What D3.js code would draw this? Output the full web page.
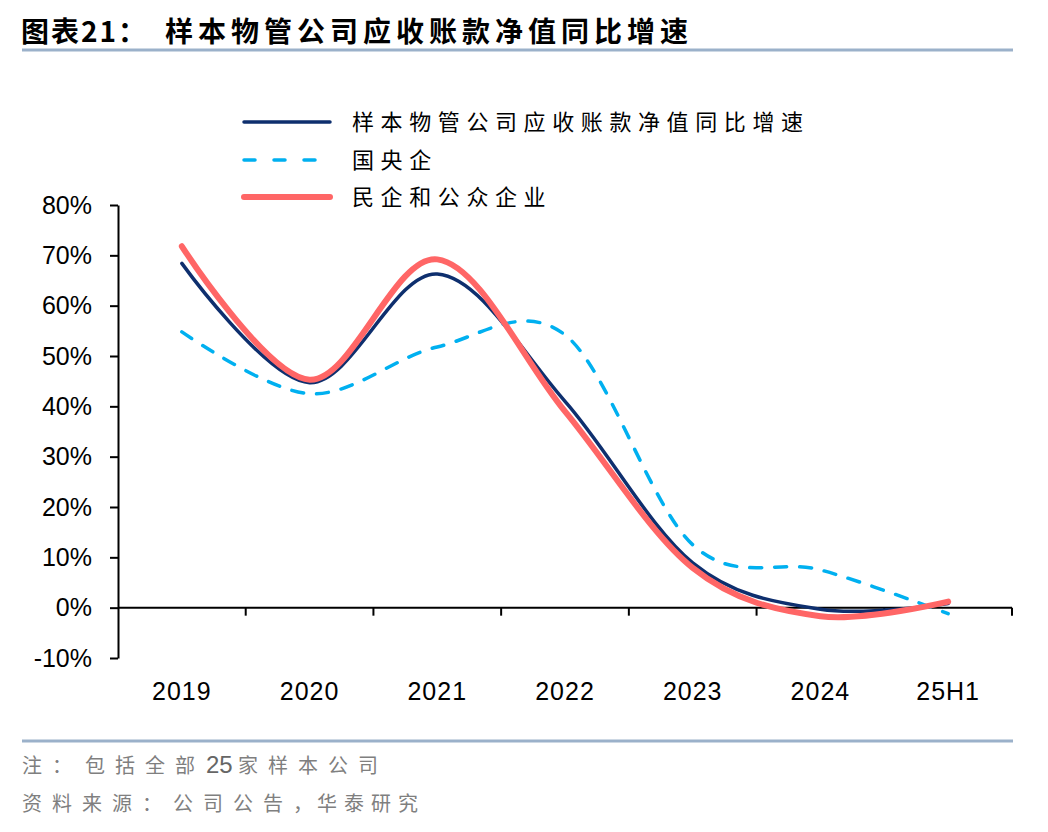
<!DOCTYPE html>
<html>
<head>
<meta charset="utf-8">
<script src="https://cdn.jsdelivr.net/npm/d3@7"></script>
<style>
  body { margin: 0; background: #fff; }
  svg text { font-family: "Liberation Sans", Arial, sans-serif; }
  .cjk { font-family: "Noto Sans CJK SC", sans-serif; }
</style>
</head>
<body>
<div id="chart"></div>
<script>
// 数据
const categories = ["2019", "2020", "2021", "2022", "2023", "2024", "25H1"];
const sampleAll = [68.4, 44.7, 66.3, 41.0, 8.9, -0.3, 0.8];
const stateOwned = [54.8, 42.5, 51.8, 54.2, 12.5, 7.5, -1.2];
const privatePublic = [71.8, 45.3, 69.2, 39.0, 7.9, -1.7, 1.2];
const yTicks = [-10, 0, 10, 20, 30, 40, 50, 60, 70, 80];

const series = [
  { name: "样本物管公司应收账款净值同比增速", values: sampleAll, color: "#0E2F6E", width: 3.5, dash: null },
  { name: "国央企", values: stateOwned, color: "#00B0F0", width: 3.5, dash: "12,13" },
  { name: "民企和公众企业", values: privatePublic, color: "#FF6666", width: 6, dash: null }
];

const width = 1048, height = 832;
const plot = { left: 118, right: 1012, top: 205, bottom: 658 };

const svg = d3.select("#chart").append("svg")
  .attr("width", width)
  .attr("height", height);

// 标题
svg.append("text")
  .attr("class", "cjk")
  .attr("x", 21).attr("y", 42)
  .attr("font-size", "28px")
  .attr("font-weight", "bold")
  .attr("letter-spacing", "2px")
  .text("图表21：");
svg.append("text")
  .attr("class", "cjk")
  .attr("x", 165).attr("y", 42)
  .attr("font-size", "28px")
  .attr("font-weight", "bold")
  .attr("letter-spacing", "5px")
  .text("样本物管公司应收账款净值同比增速");

svg.append("line")
  .attr("x1", 22).attr("x2", 1013)
  .attr("y1", 50).attr("y2", 50)
  .attr("stroke", "#9BB1CA").attr("stroke-width", 3);

// 比例尺
const x = d3.scaleBand().domain(categories).range([plot.left, plot.right]).padding(0);
const y = d3.scaleLinear().domain([-10, 80]).range([plot.bottom, plot.top]);
const cx = d => x(d) + x.bandwidth() / 2;

// Y 轴
const yAxis = svg.append("g")
  .attr("transform", `translate(${plot.left},0)`)
  .call(d3.axisLeft(y).tickValues(yTicks).tickSize(8).tickSizeOuter(0).tickPadding(18)
    .tickFormat(d => d + "%"));
yAxis.select(".domain").attr("stroke", "#000").attr("stroke-width", 2);
yAxis.selectAll(".tick line").attr("stroke", "#000").attr("stroke-width", 2);
yAxis.selectAll(".tick text").attr("font-size", "25px").attr("fill", "#000")
  .attr("font-family", "'Liberation Sans', Arial, sans-serif");

// X 轴（0% 处）
svg.append("line")
  .attr("x1", plot.left).attr("x2", plot.right)
  .attr("y1", y(0)).attr("y2", y(0))
  .attr("stroke", "#000").attr("stroke-width", 2);
const bounds = categories.map(c => x(c)).concat([plot.right]);
svg.selectAll(".xtick").data(bounds.slice(1)).enter().append("line")
  .attr("class", "xtick")
  .attr("x1", d => d).attr("x2", d => d)
  .attr("y1", y(0)).attr("y2", y(0) + 8)
  .attr("stroke", "#000").attr("stroke-width", 2);
svg.selectAll(".xlabel").data(categories).enter().append("text")
  .attr("class", "xlabel")
  .attr("x", d => cx(d))
  .attr("y", 700)
  .attr("text-anchor", "middle")
  .attr("font-size", "25px")
  .attr("letter-spacing", "1px")
  .text(d => d);

// 曲线
const line = d3.line()
  .x((d, i) => cx(categories[i]))
  .y(d => y(d))
  .curve(d3.curveCardinal.tension(0));

series.forEach(s => {
  svg.append("path")
    .datum(s.values)
    .attr("fill", "none")
    .attr("stroke", s.color)
    .attr("stroke-width", s.width)
    .attr("stroke-linecap", "round")
    .attr("stroke-dasharray", s.dash)
    .attr("d", line);
});

// 图例
const legendY = [122, 160, 197];
series.forEach((s, i) => {
  svg.append("line")
    .attr("x1", 244).attr("x2", 330)
    .attr("y1", legendY[i]).attr("y2", legendY[i])
    .attr("stroke", s.color)
    .attr("stroke-width", s.width)
    .attr("stroke-linecap", "round")
    .attr("stroke-dasharray", s.dash ? "11,19" : null);
  svg.append("text")
    .attr("class", "cjk")
    .attr("x", 352).attr("y", legendY[i] + 8)
    .attr("font-size", "22px")
    .attr("letter-spacing", "6.6px")
    .attr("fill", "#000")
    .text(s.name);
});

// 底部
svg.append("line")
  .attr("x1", 22).attr("x2", 1013)
  .attr("y1", 741).attr("y2", 741)
  .attr("stroke", "#9BB1CA").attr("stroke-width", 3);

const note = svg.append("text")
  .attr("class", "cjk")
  .attr("y", 773)
  .attr("font-size", "20px")
  .attr("fill", "#7F7F7F");
note.append("tspan").attr("x", 22).attr("letter-spacing", "10px").text("注：");
note.append("tspan").attr("x", 85).attr("letter-spacing", "10px").text("包括全部");
note.append("tspan")
  .attr("x", 206)
  .attr("font-family", "'Liberation Sans', Arial, sans-serif")
  .attr("font-size", "24px")
  .attr("fill", "#666")
  .text("25");
note.append("tspan").attr("x", 238).attr("letter-spacing", "10px").text("家样本公司");

const source = svg.append("text")
  .attr("class", "cjk")
  .attr("y", 811)
  .attr("font-size", "20px")
  .attr("fill", "#7F7F7F");
source.append("tspan").attr("x", 22).attr("letter-spacing", "10px").text("资料来源：");
source.append("tspan").attr("x", 173).attr("letter-spacing", "10px").text("公司公告，");
source.append("tspan").attr("x", 317).attr("letter-spacing", "7px").text("华泰研究");
</script>
</body>
</html>
